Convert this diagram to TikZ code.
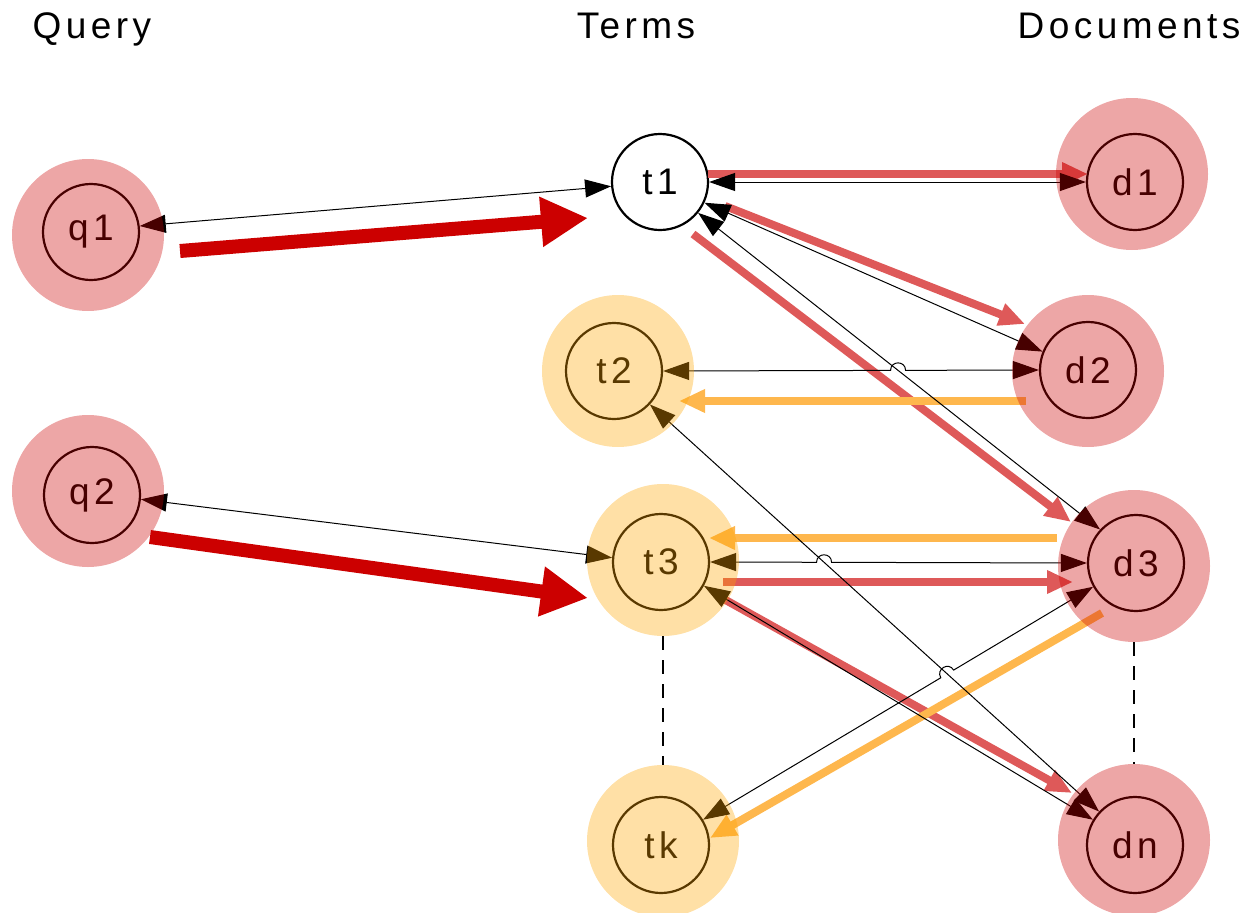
\documentclass[tikz,border=0pt]{standalone}
\usepackage{fontspec}
\setmainfont{Liberation Sans}[LetterSpace=12]
\usetikzlibrary{arrows.meta,calc,intersections}
\definecolor{hred}{HTML}{CC0000}
\definecolor{horange}{HTML}{FFA500}
\definecolor{mred}{RGB}{222,89,89}
\definecolor{morange}{RGB}{254,183,77}
\begin{document}
\begin{tikzpicture}[x=1pt,y=-1pt,
  inner/.style={circle, draw=black, line width=2.2pt, minimum size=96pt, inner sep=0pt,
    font=\fontsize{37}{40}\selectfont},
  halo/.style={circle, fill=#1, fill opacity=0.35, draw=none, minimum size=152pt, inner sep=0pt},
  thinedge/.style={line width=1pt, draw=black, >={Triangle[length=26pt,width=18pt]}, <->},
  midarrow/.style={line width=8pt, draw=#1, >={Triangle[length=26pt,width=22pt]}, ->},
  bigarrow/.style={line width=14pt, draw=hred, >={Triangle[length=47pt,width=47pt]}, ->},
  hdr/.style={font=\fontsize{37}{40}\selectfont, anchor=base},
  dashline/.style={line width=1.5pt, dash pattern=on 14pt off 10pt}
]
\useasboundingbox (0,0) rectangle (1248,913);

% headers
\node[hdr] (hq) at (92,38) {Query};
\node[hdr] (ht) at (636,38) {Terms};
\node[hdr] (hd) at (1129,38) {Documents};

% inner nodes
\node[inner] (q1) at (91,232) {q1};
\node[inner] (q2) at (92,495) {q2};
\node[inner, fill=white] (t1) at (660,182) {t1};
\node[inner] (t2) at (614,371) {t2};
\node[inner] (t3) at (661,562) {t3};
\node[inner] (tk) at (661,845) {tk};
\node[inner] (d1) at (1135,182) {d1};
\node[inner] (d2) at (1088,370) {d2};
\node[inner] (d3) at (1136,563) {d3};
\node[inner] (dn) at (1135,845) {dn};

% coordinates for the weighted arrows
\coordinate (b1s) at (180,251); \coordinate (b1e) at (588,218);
\coordinate (b2s) at (150,537); \coordinate (b2e) at (588,598);
\coordinate (r1s) at (708,174); \coordinate (r1e) at (1088,174);
\coordinate (r2s) at (725,206); \coordinate (r2e) at (1025,324);
\coordinate (r3s) at (693,234); \coordinate (r3e) at (1071,522);
\coordinate (r4s) at (723,582); \coordinate (r4e) at (1073,582);
\coordinate (r5s) at (722,598); \coordinate (r5e) at (1072,793);
\coordinate (o1s) at (1026,401); \coordinate (o1e) at (679,401);
\coordinate (o2s) at (1057,538); \coordinate (o2e) at (709,538);
\coordinate (o3s) at (1102,613); \coordinate (o3e) at (710,838);

% thick query arrows
\draw[bigarrow] (b1s) -- (b1e);
\draw[bigarrow] (b2s) -- (b2e);

% red arrows
\draw[midarrow=mred] (r1s) -- (r1e);
\draw[midarrow=mred] (r2s) -- (r2e);
\draw[midarrow=mred] (r3s) -- (r3e);
\draw[midarrow=mred] (r4s) -- (r4e);
\draw[midarrow=mred] (r5s) -- (r5e);
% orange arrows
\draw[midarrow=morange] (o1s) -- (o1e);
\draw[midarrow=morange] (o2s) -- (o2e);
\draw[midarrow=morange] (o3s) -- (o3e);

% paths for crossings
\path[name path=pa] (t1.-39) -- (d3.137);
\path[name path=pb] (t2.0) -- (d2.180);
\path[name path=pc] (t2.-43) -- (dn.137);
\path[name path=pd] (t3.0) -- (d3.180);
\path[name path=pe] (tk.31) -- (d3.209);
\path[name intersections={of=pa and pb, by=j1}];
\path[name intersections={of=pc and pd, by=j2}];
\path[name intersections={of=pc and pe, by=j3}];
\coordinate (j1a) at ($(j1)!7.5pt!(t2.0)$);
\coordinate (j1b) at ($(j1)!7.5pt!(d2.180)$);
\coordinate (j2a) at ($(j2)!7.5pt!(t3.0)$);
\coordinate (j2b) at ($(j2)!7.5pt!(d3.180)$);
\coordinate (j3a) at ($(j3)!7.5pt!(tk.31)$);
\coordinate (j3b) at ($(j3)!7.5pt!(d3.209)$);

% thin bidirectional edges
\draw[thinedge] (q1.7) -- (t1.185);
\draw[thinedge] (q2.-5) -- (t3.175);
\draw[thinedge] (t1.0) -- (d1.180);
\draw[thinedge] (t1.-25) -- (d2.158);
\draw[thinedge] (t1.-39) -- (d3.137);
\draw[thinedge] (t2.0) -- (j1a) .. controls ($(j1a)!10pt!90:(j1)$) and ($(j1b)!10pt!-90:(j1)$) .. (j1b) -- (d2.180);
\draw[thinedge] (t2.-43) -- (dn.137);
\draw[thinedge] (t3.0) -- (j2a) .. controls ($(j2a)!10pt!90:(j2)$) and ($(j2b)!10pt!-90:(j2)$) .. (j2b) -- (d3.180);
\draw[thinedge] (t3.-29) -- (dn.149);
\draw[thinedge] (tk.31) -- (j3a) .. controls ($(j3a)!10pt!90:(j3)$) and ($(j3b)!10pt!-90:(j3)$) .. (j3b) -- (d3.209);

% halos
\node[halo=hred] (q1h) at (88,235) {};
\node[halo=hred] (q2h) at (88,491) {};
\node[halo=horange] (t2h) at (618,371) {};
\node[halo=horange] (t3h) at (663,560) {};
\node[halo=horange] (tkh) at (663,841) {};
\node[halo=hred] (d1h) at (1132,174) {};
\node[halo=hred] (d2h) at (1088,371) {};
\node[halo=hred] (d3h) at (1134,566) {};
\node[halo=hred] (dnh) at (1134,840) {};

% dashed continuation lines
\draw[dashline] (t3h.south) -- (tkh.north);
\draw[dashline] (d3h.south) -- (dnh.north);
\end{tikzpicture}
\end{document}
